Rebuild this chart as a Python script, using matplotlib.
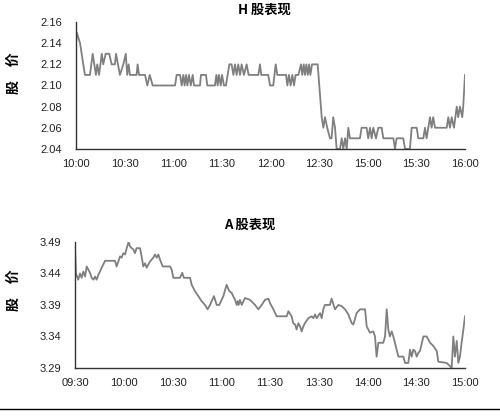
import matplotlib
matplotlib.use('Agg')
import matplotlib.pyplot as plt
from matplotlib.lines import Line2D

plt.rcParams['font.family'] = ['Liberation Sans', 'Noto Sans CJK SC', 'DejaVu Sans']
cjk = ['Noto Sans CJK SC', 'DejaVu Sans']

# H share: minutes since open (trading minutes) and price
h_min = [0, 0.5, 2.5, 4.5, 5.5, 8.6, 10.3, 12.3, 13.1, 14.2, 15.9, 16.8, 18.3, 20.5, 22, 24,
         24.7, 27.1, 29.2, 30.7, 31.6, 32.5, 33.3, 37.4, 38, 38.9, 42.6, 44, 45.5, 47.3,
         61.1, 62.1, 64.2, 65.2, 66.2, 67, 67.9, 68.7, 69.7, 70.8, 72, 72.8, 76.5, 77.1,
         80.2, 81, 85.7, 86.6, 87.4, 88.2, 89.3, 90.1, 91.3, 92.5, 94.6, 96, 97.1, 98.1,
         99.1, 100.1, 101.2, 102.2, 103.6, 105.3, 106.5, 112.5, 113.5, 114.3, 118.6, 119.7,
         121.7, 123.2, 124.2, 129.6, 130.4, 131.4, 132.4, 133.5, 134.5, 135.5, 137.2, 138.8,
         139.6, 140.5, 141.3, 142.1, 143, 143.8, 144.6, 145.6, 149.1, 151.6, 152.6, 153.6,
         155, 156.7, 157.7, 158.7, 159.8, 160.8, 162.9, 163.9, 164.9, 166, 167, 168, 169,
         175.2, 176.2, 179.3, 180.3, 181.4, 182.4, 183.4, 185.1, 186.5, 188.6, 189.6, 195.8,
         196.8, 197.8, 201.9, 203, 206, 207.1, 210.2, 211.2, 214.3, 215.3, 216.3, 218.4,
         219.4, 220.4, 221.5, 228.7, 229.7, 230.7, 231.8, 233.2, 234.9, 235.8, 236.9, 238.3,
         238.9, 240]
h_price = [2.14, 2.15, 2.14, 2.12, 2.11, 2.11, 2.13, 2.11, 2.12, 2.11, 2.13, 2.12, 2.13, 2.13, 2.12, 2.12,
           2.13, 2.11, 2.12, 2.13, 2.11, 2.12, 2.11, 2.11, 2.12, 2.11, 2.11, 2.10, 2.11, 2.10,
           2.10, 2.11, 2.11, 2.10, 2.11, 2.10, 2.11, 2.10, 2.11, 2.10, 2.11, 2.10, 2.10, 2.11,
           2.11, 2.10, 2.10, 2.11, 2.10, 2.11, 2.10, 2.11, 2.10, 2.10, 2.12, 2.12, 2.11, 2.12,
           2.11, 2.12, 2.11, 2.12, 2.11, 2.12, 2.11, 2.11, 2.12, 2.11, 2.11, 2.10,
           2.10, 2.12, 2.11, 2.11, 2.10, 2.11, 2.10, 2.11, 2.10, 2.11, 2.11, 2.12,
           2.11, 2.12, 2.11, 2.12, 2.11, 2.12, 2.11, 2.12, 2.12, 2.07, 2.06, 2.07,
           2.06, 2.05, 2.05, 2.07, 2.06, 2.04, 2.04, 2.05, 2.04, 2.05, 2.04, 2.06, 2.05,
           2.05, 2.06, 2.06, 2.05, 2.06, 2.05, 2.06, 2.05, 2.06, 2.06, 2.05, 2.05,
           2.04, 2.05, 2.05, 2.04, 2.04, 2.06, 2.06, 2.05, 2.05, 2.06, 2.05, 2.07,
           2.06, 2.07, 2.06, 2.06, 2.07, 2.06, 2.07, 2.06, 2.08, 2.07, 2.08, 2.07,
           2.08, 2.11]
h_ticks = ['10:00', '10:30', '11:00', '11:30', '12:00', '12:30', '15:00', '15:30', '16:00']

# A share
a_min = [0, 0.6, 2, 3.1, 4.1, 5.1, 6.2, 7.2, 8.2, 9.2, 10.3, 11.3, 12.3, 13.3, 14.4, 15.4,
         16.4, 17.4, 18.5, 24.6, 25.6, 26.7, 27.7, 28.7, 29.7, 30.8, 31.8, 33, 33.8, 34.9,
         35.9, 36.9, 37.9, 40, 41, 42, 43.1, 44.1, 45.1, 46.2, 48.2, 49.2, 50.3, 51.3, 52.3,
         54, 58.5, 59.5, 60.5, 64.6, 66, 67, 70.8, 71.8, 73.8, 75.9, 77.9, 80, 81.6, 83.1,
         85.5, 87.2, 88.8, 91.3, 93.3, 94.9, 96.4, 98.5, 99.5, 100.1, 100.7, 101.5, 102.6,
         104.6, 107.7, 110.8, 112.8, 114.9, 116.9, 119, 120, 122.1, 124.1, 130.3, 131.3,
         133.3, 134.3, 135.4, 136.4, 137.4, 138.5, 139.5, 140.5, 141.5, 143.6, 145.6, 146.7,
         147.7, 148.7, 150.8, 151.8, 152.8, 153.8, 156.9, 157.9, 160, 162.1, 164.1, 166.2,
         168.2, 170.3, 171.3, 173.3, 175.4, 178.5, 179.5, 180.5, 181.5, 183.6, 184.6, 185.6,
         186.7, 189.7, 190.8, 191.8, 192.8, 193.8, 194.9, 195.9, 197.9, 199, 202.1, 203.1,
         205.1, 206.2, 207.2, 208.2, 209.2, 210.3, 211.3, 212.3, 214.4, 216.4, 218.5, 220.5,
         222.6, 223.6, 228.7, 230.8, 231.8, 232.8, 233.8, 234.9, 235.9, 236.9, 237.9, 239, 240]
a_price = [3.48, 3.44, 3.43, 3.44, 3.433, 3.443, 3.435, 3.451, 3.446, 3.441, 3.433, 3.43, 3.435, 3.43, 3.438, 3.443,
           3.449, 3.454, 3.46, 3.46, 3.451, 3.459, 3.467, 3.465, 3.472, 3.47, 3.48, 3.49, 3.483, 3.48,
           3.478, 3.472, 3.48, 3.48, 3.467, 3.451, 3.456, 3.449, 3.454, 3.459, 3.465, 3.47, 3.465, 3.47, 3.462,
           3.451, 3.451, 3.446, 3.433, 3.433, 3.441, 3.433, 3.433, 3.422, 3.412, 3.404, 3.396, 3.39, 3.383, 3.39,
           3.404, 3.39, 3.39, 3.404, 3.422, 3.412, 3.409, 3.398, 3.39, 3.396, 3.39, 3.398, 3.39,
           3.401, 3.398, 3.39, 3.383, 3.39, 3.398, 3.40, 3.393, 3.383, 3.372, 3.372, 3.38,
           3.372, 3.361, 3.359, 3.351, 3.361, 3.356, 3.348, 3.356, 3.361, 3.369, 3.372, 3.369,
           3.375, 3.369, 3.377, 3.369, 3.383, 3.39, 3.39, 3.40, 3.383, 3.39, 3.388, 3.383,
           3.375, 3.361, 3.359, 3.377, 3.383, 3.383, 3.356, 3.351, 3.346, 3.348, 3.34, 3.308,
           3.33, 3.33, 3.34, 3.383, 3.351, 3.34, 3.348, 3.34, 3.319, 3.308, 3.308, 3.298,
           3.298, 3.319, 3.308, 3.319, 3.317, 3.308, 3.314, 3.317, 3.34, 3.34, 3.33, 3.325,
           3.317, 3.30, 3.298, 3.293, 3.29, 3.34, 3.308, 3.333, 3.298, 3.308, 3.33, 3.351, 3.372]
a_ticks = ['09:30', '10:00', '10:30', '11:00', '11:30', '13:30', '14:00', '14:30', '15:00']

fig = plt.figure(figsize=(5, 4.17), dpi=100)
ax1 = fig.add_axes([0.152, 0.643, 0.778, 0.304])
ax2 = fig.add_axes([0.150, 0.1175, 0.780, 0.3025])

panels = [
    (ax1, h_min, h_price, h_ticks, 2.04, 2.16, [2.04, 2.06, 2.08, 2.10, 2.12, 2.14, 2.16]),
    (ax2, a_min, a_price, a_ticks, 3.29, 3.49, [3.29, 3.34, 3.39, 3.44, 3.49]),
]
for ax, xs, ys, labels, lo, hi, yt in panels:
    ax.plot(xs, ys, color='#7f7f7f', lw=1.3, zorder=1)
    ax.set_xlim(0, 240)
    ax.set_ylim(lo, hi)
    ax.set_xticks(range(0, 241, 30))
    ax.set_xticklabels(labels)
    ax.set_yticks(yt)
    ax.set_yticklabels(['%.2f' % v for v in yt])
    ax.tick_params(length=0, labelsize=8, colors='#222222')
    ax.tick_params(axis='y', pad=10)
    ax.tick_params(axis='x', pad=7)
    for s in ['top', 'right']:
        ax.spines[s].set_visible(False)
    for s in ['left', 'bottom']:
        ax.spines[s].set_color('#333333')
        ax.spines[s].set_linewidth(1.0)
        ax.spines[s].set_zorder(3)

fig.text(0.528, 0.977, 'H 股表现', ha='center', va='center', fontsize=9.5,
         fontweight='bold', family=cjk)
fig.text(0.50, 0.461, 'A 股表现', ha='center', va='center', fontsize=9.5,
         fontweight='bold', family=cjk)
fig.text(0.028, 0.825, '股\u3000价', rotation=90, ha='center', va='center',
         fontsize=10, fontweight='bold', family=cjk)
fig.text(0.028, 0.305, '股\u3000价', rotation=90, ha='center', va='center',
         fontsize=10, fontweight='bold', family=cjk)

fig.add_artist(Line2D([0, 1], [0.019, 0.019], color='black', lw=1.0))

fig.savefig('out.png', dpi=100)
